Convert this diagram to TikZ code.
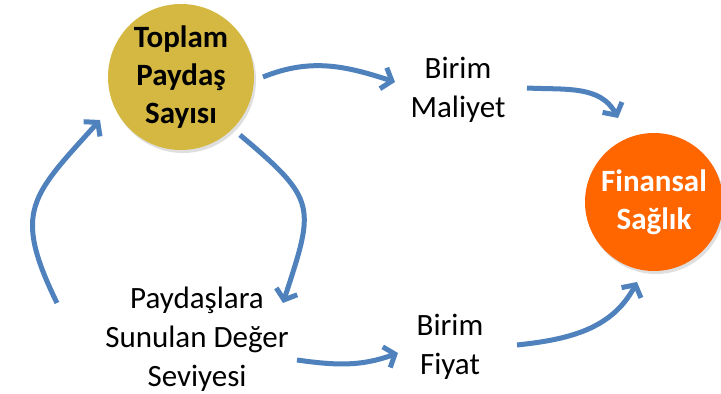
\documentclass[tikz,border=0pt]{standalone}
\usepackage{fontspec}
\setmainfont{Carlito}
\usetikzlibrary{arrows.meta,shadows}
\definecolor{toplamgold}{RGB}{212,184,66}
\definecolor{finorange}{RGB}{255,102,0}
\definecolor{flowblue}{RGB}{79,129,189}
\tikzset{
	bubble/.style={circle, inner sep=0pt, align=center, font=\bfseries\fontsize{31}{38}\selectfont,
		drop shadow={opacity=0.25, shadow xshift=2pt, shadow yshift=-3pt}},
	label text/.style={align=center, font=\fontsize{31}{39}\selectfont},
	flow/.style={draw=flowblue, line width=5pt, -{Straight Barb[length=9pt, width=22pt]}}
}

\begin{document}
\begin{tikzpicture}[x=1pt, y=1pt]
			%%%%% START %%%%%
			\useasboundingbox (0, 0) rectangle (721, 394);
			
			\node[bubble, fill=toplamgold, minimum size=146pt] (toplam) at (181, 317) {Toplam\\Paydaş\\Sayısı};
			\node[bubble, fill=finorange, text=white, minimum size=138pt] (finansal) at (654, 192) {Finansal\\Sağlık};
			
			\node[label text] (maliyet) at (458, 304) {Birim\\Maliyet};
			\node[label text] (fiyat) at (450, 47) {Birim\\Fiyat};
			\node[label text] (deger) at (197, 55) {Paydaşlara\\Sunulan Değer\\Seviyesi};
			
			\draw[flow] ([shift={(82pt,0pt)}]toplam.center) to[out=22, in=162] ([shift={(-63pt,8pt)}]maliyet.center);
			\draw[flow] ([shift={(69pt,2pt)}]maliyet.center) to[out=-3, in=118] ([shift={(-36pt,84pt)}]finansal.center);
			
			\draw[flow] ([shift={(59pt,-58pt)}]toplam.center) to[out=-40, in=72, looseness=1.5] ([shift={(86pt,36pt)}]deger.center);
			\draw[flow] ([shift={(-140pt,36pt)}]deger.center) to[out=116, in=228, looseness=1.4] ([shift={(-81pt,-43pt)}]toplam.center);
			
			\draw[flow] ([shift={(100pt,-21pt)}]deger.center) to[out=-8, in=200] ([shift={(-52pt,-6pt)}]fiyat.center);
			\draw[flow] ([shift={(67pt,2pt)}]fiyat.center) to[out=6, in=242] ([shift={(-17pt,-80pt)}]finansal.center);
			
			%%%%% END %%%%%
		\end{tikzpicture}
\end{document}
